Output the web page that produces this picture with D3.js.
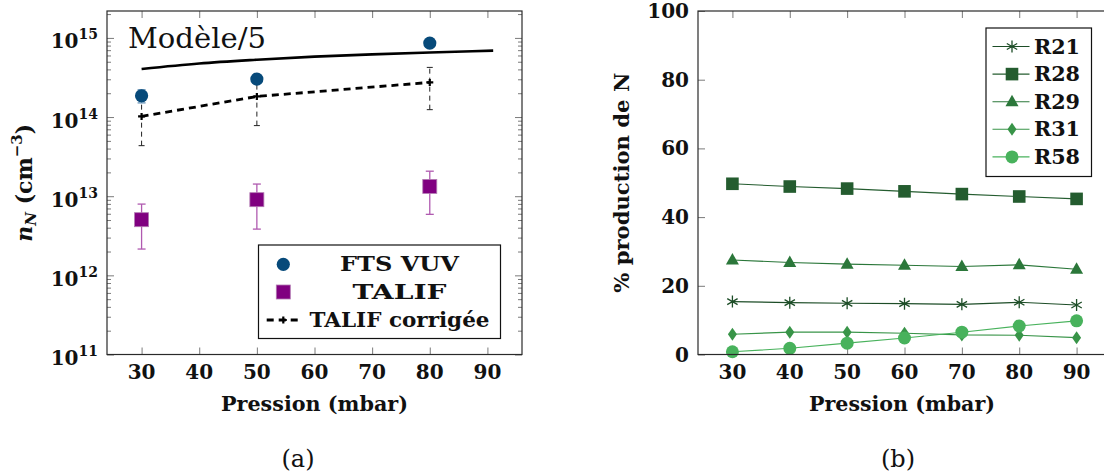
<!DOCTYPE html>
<html><head><meta charset="utf-8">
<script src="https://cdn.jsdelivr.net/npm/d3@7"></script>
<style>
html,body{margin:0;padding:0;background:#fff;}
svg{display:block;}
text{font-family:"DejaVu Serif",serif;fill:#111;}
</style></head>
<body>
<svg id="chart" width="1104" height="473"></svg>
<script>
// ---------- DATA ----------
const pressureTicks = [30, 40, 50, 60, 70, 80, 90];
const decadeTicks = [1e11, 1e12, 1e13, 1e14, 1e15];
const decadeExponents = ["11", "12", "13", "14", "15"];
const percentTicks = [0, 20, 40, 60, 80, 100];

// panel (a)
const pressuresA = [30, 50, 80];
const ftsVuv = [1.86e14, 3.02e14, 8.6e14];
const ftsVuvErr = [3.5e13, 2e13, 4e13];
const talif = [5.05e12, 9.04e12, 1.33e13];
const talifErr = [2.9e12, 5.2e12, 7.4e12];
const talifCorr = [1.02e14, 1.82e14, 2.74e14];
const talifCorrErr = [5.85e13, 1.04e14, 1.5e14];
const modelPressures = [30, 40, 50, 60, 70, 80, 91];
const modelOver5 = [4.05e14, 4.75e14, 5.3e14, 5.8e14, 6.2e14, 6.55e14, 6.9e14];

// panel (b)
const pressuresB = [30, 40, 50, 60, 70, 80, 90];
const seriesNames = ["R21", "R28", "R29", "R31", "R58"];
const r21 = [15.4, 15.1, 14.9, 14.8, 14.6, 15.2, 14.4];
const r28 = [49.7, 48.9, 48.3, 47.5, 46.7, 46.0, 45.3];
const r29 = [27.5, 26.8, 26.3, 26.0, 25.6, 26.1, 24.8];
const r31 = [5.9, 6.5, 6.5, 6.2, 5.7, 5.6, 4.9];
const r58 = [0.8, 1.8, 3.3, 4.8, 6.5, 8.3, 9.8];

// ---------- LAYOUT ----------
const svg = d3.select("#chart");
const yTop = 11, yBot = 354.5;
const A = {x0: 107, x1: 522};
const B = {x0: 698, x1: 1111};
const TICK = 7, MINOR = 4;
const tickColor = "#7a7a7a";
const frameColor = "#2a2a2a";
const TICKFONT = 20;

const xA = d3.scaleLinear().domain([24, 96]).range([A.x0, A.x1]);
const yA = d3.scaleLog().domain([1e11, Math.pow(10, 15.34)]).range([yBot, yTop]);
const xB = d3.scaleLinear().domain([24, 96]).range([B.x0, B.x1]);
const yB = d3.scaleLinear().domain([0, 100]).range([yBot, yTop]);

function styleAxis(g) {
  g.select(".domain").remove();
  g.selectAll(".tick line").attr("stroke", tickColor).attr("stroke-width", 1);
  g.selectAll(".tick text").remove();
}
function frame(x0, x1) {
  svg.append("rect").attr("x", x0).attr("y", yTop).attr("width", x1 - x0).attr("height", yBot - yTop)
    .attr("fill", "none").attr("stroke", frameColor).attr("stroke-width", 1.2);
}

// ---------- PANEL (a) ----------
const minorA = [];
for (let e = 11; e <= 15; e++) for (let m = 2; m <= 9; m++) { const v = m * Math.pow(10, e); if (v <= yA.domain()[1]) minorA.push(v); }

svg.append("g").attr("transform", `translate(0,${yBot})`).call(d3.axisBottom(xA).tickValues(pressureTicks).tickSize(-TICK)).call(styleAxis);
svg.append("g").attr("transform", `translate(0,${yTop})`).call(d3.axisTop(xA).tickValues(pressureTicks).tickSize(-TICK)).call(styleAxis);
svg.append("g").attr("transform", `translate(${A.x0},0)`).call(d3.axisLeft(yA).tickValues(decadeTicks).tickSize(-TICK)).call(styleAxis);
svg.append("g").attr("transform", `translate(${A.x1},0)`).call(d3.axisRight(yA).tickValues(decadeTicks).tickSize(-TICK)).call(styleAxis);
svg.append("g").attr("transform", `translate(${A.x0},0)`).call(d3.axisLeft(yA).tickValues(minorA).tickSize(-MINOR)).call(styleAxis);
svg.append("g").attr("transform", `translate(${A.x1},0)`).call(d3.axisRight(yA).tickValues(minorA).tickSize(-MINOR)).call(styleAxis);

// model line
svg.append("path").datum(modelPressures.map((p, i) => [p, modelOver5[i]]))
  .attr("d", d3.line().x(d => xA(d[0])).y(d => yA(d[1])).curve(d3.curveMonotoneX))
  .attr("fill", "none").attr("stroke", "#000").attr("stroke-width", 2.6);

// TALIF corrigée error bars
const tcData = pressuresA.map((p, i) => ({p, v: talifCorr[i], e: talifCorrErr[i]}));
const tcG = svg.append("g");
tcData.forEach(d => {
  tcG.append("line").attr("x1", xA(d.p)).attr("x2", xA(d.p)).attr("y1", yA(d.v - d.e)).attr("y2", yA(d.v + d.e))
    .attr("stroke", "#222").attr("stroke-width", 1).attr("stroke-dasharray", "5,4");
  [d.v - d.e, d.v + d.e].forEach(v => tcG.append("line").attr("x1", xA(d.p) - 3).attr("x2", xA(d.p) + 3)
    .attr("y1", yA(v)).attr("y2", yA(v)).attr("stroke", "#222").attr("stroke-width", 1));
});
svg.append("path").datum(tcData)
  .attr("d", d3.line().x(d => xA(d.p)).y(d => yA(d.v)))
  .attr("fill", "none").attr("stroke", "#000").attr("stroke-width", 2.8).attr("stroke-dasharray", "7,5");
function plus(g, x, y, s) {
  g.append("path").attr("d", `M${x - s},${y}H${x + s}M${x},${y - s}V${y + s}`).attr("stroke", "#000").attr("stroke-width", 2.2);
}
tcData.forEach(d => plus(svg, xA(d.p), yA(d.v), 3.5));

// FTS VUV error bars + circles
const ftsData = pressuresA.map((p, i) => ({p, v: ftsVuv[i], e: ftsVuvErr[i]}));
ftsData.forEach(d => {
  svg.append("line").attr("x1", xA(d.p)).attr("x2", xA(d.p)).attr("y1", yA(d.v - d.e)).attr("y2", yA(d.v + d.e))
    .attr("stroke", "#5a8ab0").attr("stroke-width", 1.2);
  [d.v - d.e, d.v + d.e].forEach(v => svg.append("line").attr("x1", xA(d.p) - 4).attr("x2", xA(d.p) + 4)
    .attr("y1", yA(v)).attr("y2", yA(v)).attr("stroke", "#5a8ab0").attr("stroke-width", 1.2));
});
svg.selectAll(".fts").data(ftsData).join("circle").attr("cx", d => xA(d.p)).attr("cy", d => yA(d.v)).attr("r", 6.6)
  .attr("fill", "#074a7a");

// TALIF error bars + squares
const talData = pressuresA.map((p, i) => ({p, v: talif[i], e: talifErr[i]}));
talData.forEach(d => {
  svg.append("line").attr("x1", xA(d.p)).attr("x2", xA(d.p)).attr("y1", yA(d.v - d.e)).attr("y2", yA(d.v + d.e))
    .attr("stroke", "#b05ab0").attr("stroke-width", 1.3);
  [d.v - d.e, d.v + d.e].forEach(v => svg.append("line").attr("x1", xA(d.p) - 4).attr("x2", xA(d.p) + 4)
    .attr("y1", yA(v)).attr("y2", yA(v)).attr("stroke", "#b05ab0").attr("stroke-width", 1.3));
});
svg.selectAll(".tal").data(talData).join("rect").attr("x", d => xA(d.p) - 7).attr("y", d => yA(d.v) - 7)
  .attr("width", 14).attr("height", 14).attr("fill", "#800080").attr("stroke", "#b27ab2").attr("stroke-width", 0.8);

frame(A.x0, A.x1);

// Modèle/5 label
svg.append("text").attr("x", 128).attr("y", 48).attr("font-size", 27).attr("textLength", 138)
  .attr("lengthAdjust", "spacingAndGlyphs").text("Modèle/5");

// tick labels (a)
svg.append("g").selectAll("text").data(pressureTicks).join("text")
  .attr("x", d => xA(d)).attr("y", 379).attr("text-anchor", "middle").attr("font-size", TICKFONT).attr("font-weight", "bold").text(d => d);
const yl = svg.append("g");
decadeTicks.forEach((v, i) => {
  const t = yl.append("text").attr("x", 98).attr("y", yA(v) + 10.5).attr("text-anchor", "end").attr("font-weight", "bold").attr("font-size", 20);
  t.append("tspan").text("10");
  t.append("tspan").attr("font-size", 14).attr("dy", -9).text(decadeExponents[i]);
});
svg.append("text").attr("x", (A.x0 + A.x1) / 2).attr("y", 411).attr("text-anchor", "middle").attr("font-size", 20)
  .attr("font-weight", "bold").attr("textLength", 187).attr("lengthAdjust", "spacingAndGlyphs").text("Pression (mbar)");
const ylab = svg.append("text").attr("transform", `translate(32,${(yTop + yBot) / 2}) rotate(-90)`).attr("text-anchor", "middle")
  .attr("font-size", 22).attr("font-weight", "bold");
ylab.append("tspan").attr("font-style", "italic").text("n");
ylab.append("tspan").attr("font-style", "italic").attr("font-size", 15).attr("dy", 4).text("N");
ylab.append("tspan").attr("dy", -4).text(" (cm");
ylab.append("tspan").attr("font-size", 15).attr("dy", -10).text("−3");
ylab.append("tspan").attr("dy", 10).text(")");

// legend (a)
const lgA = svg.append("g");
lgA.append("rect").attr("x", 258.5).attr("y", 245).attr("width", 242).attr("height", 93.5).attr("fill", "#fff").attr("stroke", "#111").attr("stroke-width", 1.2);
const lgRows = [264.3, 292, 320];
lgA.append("circle").attr("cx", 283.3).attr("cy", lgRows[0]).attr("r", 6.6).attr("fill", "#074a7a");
lgA.append("rect").attr("x", 276.3).attr("y", lgRows[1] - 7).attr("width", 14).attr("height", 14).attr("fill", "#800080").attr("stroke", "#b27ab2").attr("stroke-width", 0.8);
lgA.append("line").attr("x1", 266.7).attr("x2", 300).attr("y1", lgRows[2]).attr("y2", lgRows[2]).attr("stroke", "#000").attr("stroke-width", 2.8).attr("stroke-dasharray", "7,5");
plus(lgA, 283.3, lgRows[2], 3.5);
[["FTS VUV", 119], ["TALIF", 94], ["TALIF corrigée", 180]].forEach((t, i) => {
  lgA.append("text").attr("x", 399.5).attr("y", lgRows[i] + 7).attr("text-anchor", "middle").attr("font-size", 20).attr("font-weight", "bold")
    .attr("textLength", t[1]).attr("lengthAdjust", "spacingAndGlyphs").text(t[0]);
});
svg.append("text").attr("x", 298).attr("y", 467).attr("text-anchor", "middle").attr("font-size", 24).text("(a)");

// ---------- PANEL (b) ----------
svg.append("g").attr("transform", `translate(0,${yBot})`).call(d3.axisBottom(xB).tickValues(pressureTicks).tickSize(-TICK)).call(styleAxis);
svg.append("g").attr("transform", `translate(0,${yTop})`).call(d3.axisTop(xB).tickValues(pressureTicks).tickSize(-TICK)).call(styleAxis);
svg.append("g").attr("transform", `translate(${B.x0},0)`).call(d3.axisLeft(yB).tickValues(percentTicks).tickSize(-TICK)).call(styleAxis);
svg.append("g").attr("transform", `translate(${B.x1},0)`).call(d3.axisRight(yB).tickValues(percentTicks).tickSize(-TICK)).call(styleAxis);

const colors = {R21: "#1d4d27", R28: "#245c2f", R29: "#2b773a", R31: "#389448", R58: "#48b25c"};
const seriesVals = {R21: r21, R28: r28, R29: r29, R31: r31, R58: r58};

function marker(g, name, x, y) {
  const c = colors[name];
  if (name === "R21") {
    const s = 6;
    let d = "";
    [90, 30, 150].forEach(a => { const r = a * Math.PI / 180; d += `M${x - s * Math.cos(r)},${y - s * Math.sin(r)}L${x + s * Math.cos(r)},${y + s * Math.sin(r)}`; });
    g.append("path").attr("d", d).attr("stroke", c).attr("stroke-width", 1.3).attr("fill", "none");
  } else if (name === "R28") {
    g.append("rect").attr("x", x - 6.3).attr("y", y - 6.3).attr("width", 12.6).attr("height", 12.6).attr("fill", c);
  } else if (name === "R29") {
    g.append("path").attr("d", `M${x},${y - 7}L${x + 6.5},${y + 4.5}L${x - 6.5},${y + 4.5}Z`).attr("fill", c);
  } else if (name === "R31") {
    g.append("path").attr("d", `M${x},${y - 6.5}L${x + 4.5},${y}L${x},${y + 6.5}L${x - 4.5},${y}Z`).attr("fill", c);
  } else {
    g.append("circle").attr("cx", x).attr("cy", y).attr("r", 6.5).attr("fill", c);
  }
}

const plotB = svg.append("g");
seriesNames.forEach(name => {
  const vals = seriesVals[name];
  plotB.append("path").datum(pressuresB.map((p, i) => [p, vals[i]]))
    .attr("d", d3.line().x(d => xB(d[0])).y(d => yB(d[1])))
    .attr("fill", "none").attr("stroke", colors[name]).attr("stroke-width", 1.1);
  pressuresB.forEach((p, i) => marker(plotB, name, xB(p), yB(vals[i])));
});

frame(B.x0, B.x1);

svg.append("g").selectAll("text").data(pressureTicks).join("text")
  .attr("x", d => xB(d)).attr("y", 379).attr("text-anchor", "middle").attr("font-size", TICKFONT).attr("font-weight", "bold").text(d => d);
svg.append("g").selectAll("text").data(percentTicks).join("text")
  .attr("x", 689).attr("y", d => yB(d) + 7).attr("text-anchor", "end").attr("font-size", TICKFONT).attr("font-weight", "bold").text(d => d);
svg.append("text").attr("x", 902).attr("y", 411).attr("text-anchor", "middle").attr("font-size", 20)
  .attr("font-weight", "bold").attr("textLength", 186).attr("lengthAdjust", "spacingAndGlyphs").text("Pression (mbar)");
svg.append("text").attr("transform", `translate(629,${(yTop + yBot) / 2}) rotate(-90)`).attr("text-anchor", "middle")
  .attr("font-size", 20).attr("font-weight", "bold").attr("textLength", 220).attr("lengthAdjust", "spacingAndGlyphs").text("% production de N");

// legend (b)
const lgB = svg.append("g");
lgB.append("rect").attr("x", 986).attr("y", 28).attr("width", 105.5).attr("height", 148.5).attr("fill", "#fff").attr("stroke", "#111").attr("stroke-width", 1.2);
seriesNames.forEach((name, i) => {
  const y = 46.5 + i * 27.6;
  lgB.append("line").attr("x1", 992.5).attr("x2", 1029.5).attr("y1", y).attr("y2", y).attr("stroke", colors[name]).attr("stroke-width", 1.1);
  marker(lgB, name, 1012, y);
  lgB.append("text").attr("x", 1034).attr("y", y + 7).attr("font-size", 20).attr("font-weight", "bold")
    .attr("textLength", 46).attr("lengthAdjust", "spacingAndGlyphs").text(name);
});
svg.append("text").attr("x", 898).attr("y", 467).attr("text-anchor", "middle").attr("font-size", 24).text("(b)");
</script>
</body></html>
